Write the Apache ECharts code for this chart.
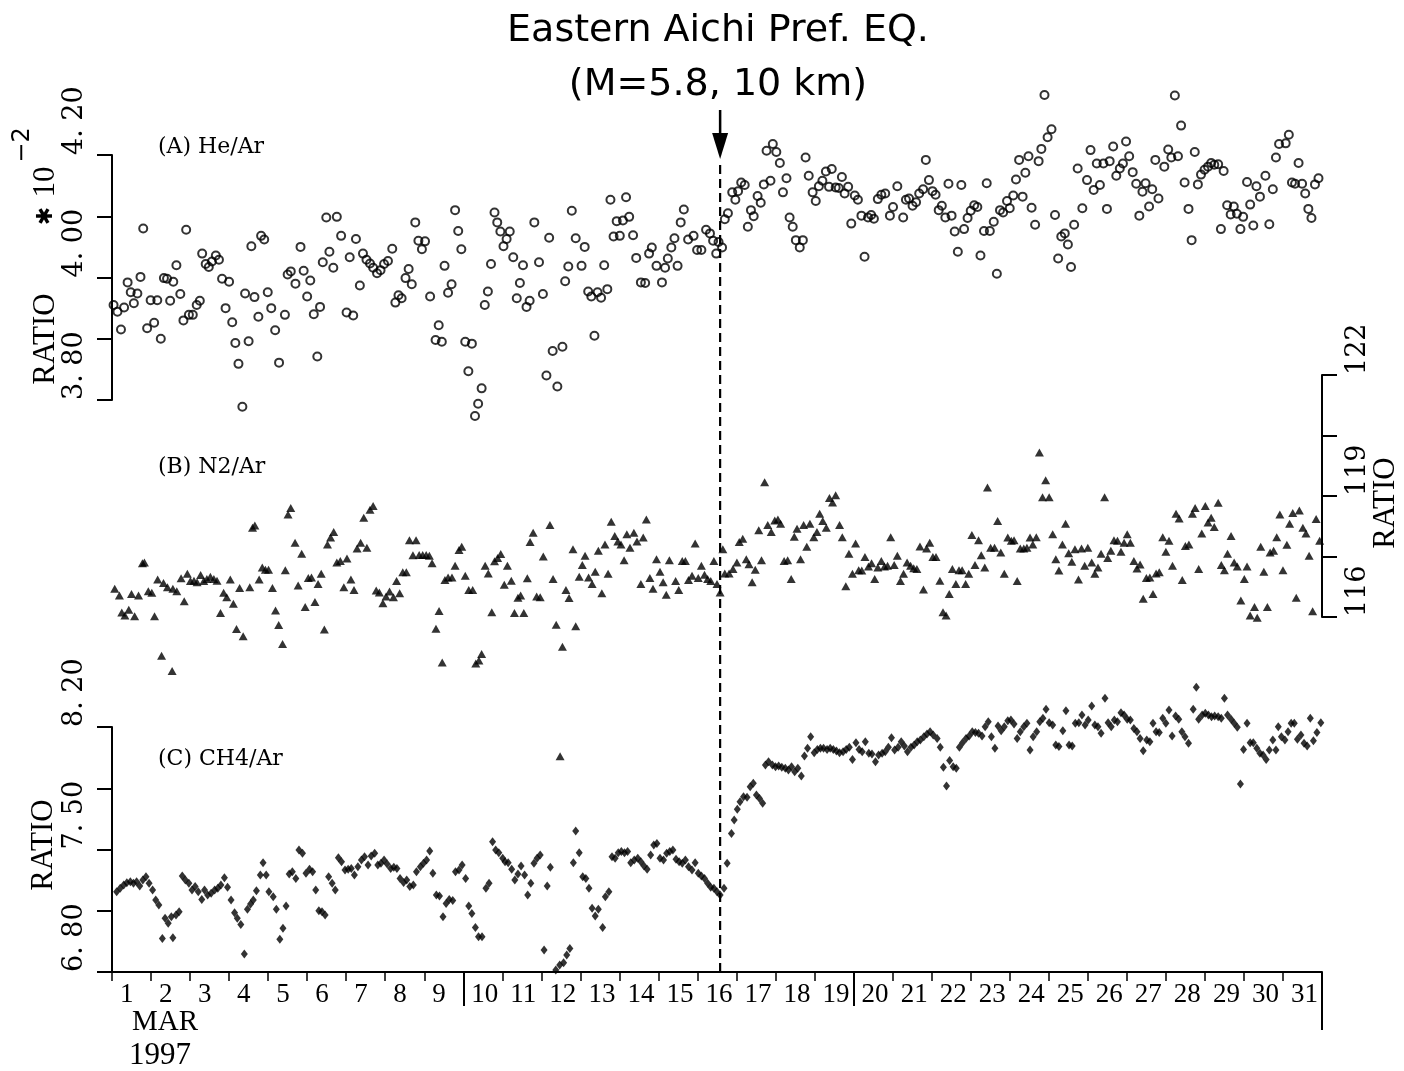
<!DOCTYPE html>
<html>
<head>
    <meta charset="utf-8">
    <title>Eastern Aichi Pref. EQ.</title>
    <script src="https://cdn.jsdelivr.net/npm/echarts@6/dist/echarts.min.js"></script>
    <style>html, body { margin: 0; background: #fff; }</style>
</head>
<body>
<div id="main" style="width: 1404px; height: 1071px;"></div>
<script type="text/javascript">
// day of March 1997 (0 = start of Mar 1), ratio
var heAr = [
    [0.04,3.955],[0.14,3.944],[0.23,3.915],[0.31,3.951],[0.40,3.992],[0.48,3.976],[0.56,3.958],[0.65,3.974],[0.73,4.001],[0.80,4.080],
    [0.90,3.917],[0.99,3.963],[1.08,3.926],[1.16,3.963],[1.25,3.900],[1.33,3.999],[1.41,3.998],[1.49,3.962],[1.57,3.993],[1.65,4.020],
    [1.75,3.973],[1.83,3.930],[1.90,4.078],[1.97,3.939],[2.07,3.939],[2.17,3.955],[2.25,3.962],[2.31,4.039],[2.40,4.022],[2.48,4.017],
    [2.56,4.026],[2.66,4.036],[2.74,4.029],[2.82,3.998],[2.91,3.950],[3.00,3.993],[3.08,3.927],[3.16,3.893],[3.24,3.859],[3.34,3.789],
    [3.41,3.974],[3.50,3.896],[3.57,4.051],[3.65,3.968],[3.75,3.936],[3.82,4.068],[3.90,4.062],[3.99,3.976],[4.08,3.950],[4.18,3.914],
    [4.28,3.861],[4.43,3.939],[4.50,4.005],[4.58,4.010],[4.70,3.990],[4.83,4.050],[4.91,4.011],[5.00,3.969],[5.08,3.995],[5.17,3.940],
    [5.26,3.871],[5.33,3.952],[5.40,4.025],[5.49,4.098],[5.57,4.042],[5.67,4.016],[5.76,4.099],[5.87,4.068],[6.01,3.943],[6.09,4.033],
    [6.18,3.938],[6.25,4.063],[6.35,3.987],[6.43,4.039],[6.52,4.029],[6.61,4.023],[6.69,4.016],[6.79,4.007],[6.88,4.012],[6.97,4.022],
    [7.07,4.027],[7.18,4.047],[7.26,3.959],[7.34,3.971],[7.42,3.966],[7.52,3.999],[7.60,4.014],[7.68,3.989],[7.77,4.090],[7.85,4.060],
    [7.94,4.046],[8.02,4.059],[8.15,3.969],[8.29,3.898],[8.37,3.922],[8.45,3.895],[8.52,4.019],[8.61,3.975],[8.70,3.989],[8.79,4.110],
    [8.87,4.076],[8.95,4.046],[9.05,3.895],[9.13,3.847],[9.22,3.892],[9.30,3.774],[9.38,3.794],[9.47,3.819],[9.55,3.955],[9.63,3.977],
    [9.71,4.022],[9.80,4.106],[9.87,4.090],[9.95,4.075],[10.03,4.051],[10.11,4.063],[10.19,4.075],[10.28,4.033],[10.37,3.966],[10.45,3.991],
    [10.53,4.020],[10.62,3.952],[10.70,3.962],[10.82,4.090],[10.94,4.025],[11.04,3.973],[11.13,3.840],[11.20,4.065],[11.29,3.880],[11.41,3.822],
    [11.54,3.887],[11.61,3.994],[11.69,4.018],[11.78,4.109],[11.88,4.064],[12.03,4.019],[12.11,4.050],[12.20,3.977],[12.28,3.969],[12.36,3.905],
    [12.44,3.976],[12.53,3.967],[12.61,4.020],[12.69,3.981],[12.77,4.127],[12.85,4.067],[12.93,4.092],[13.01,4.068],[13.09,4.093],[13.17,4.131],
    [13.25,4.099],[13.35,4.069],[13.43,4.032],[13.55,3.992],[13.66,3.991],[13.76,4.039],[13.83,4.049],[13.95,4.019],[14.09,3.992],[14.17,4.016],
    [14.24,4.031],[14.33,4.049],[14.41,4.064],[14.49,4.019],[14.57,4.090],[14.65,4.111],[14.76,4.062],[14.90,4.068],[14.99,4.045],[15.10,4.045],
    [15.22,4.078],[15.32,4.072],[15.40,4.060],[15.48,4.039],[15.54,4.058],
    [15.63,4.049],[15.70,4.095],[15.78,4.105],[15.89,4.139],[15.97,4.127],[16.04,4.141],[16.12,4.155],[16.21,4.151],[16.29,4.083],[16.37,4.110],
    [16.44,4.100],[16.54,4.133],[16.62,4.122],[16.70,4.152],[16.77,4.207],[16.87,4.158],[16.93,4.218],[17.02,4.205],[17.11,4.187],[17.19,4.139],
    [17.28,4.162],[17.36,4.098],[17.44,4.083],[17.52,4.061],[17.62,4.049],[17.70,4.061],[17.77,4.196],[17.85,4.166],[17.95,4.139],[18.03,4.125],
    [18.11,4.149],[18.20,4.158],[18.29,4.173],[18.37,4.148],[18.44,4.177],[18.54,4.147],[18.62,4.146],[18.70,4.164],[18.77,4.137],[18.86,4.148],
    [18.94,4.088],[19.03,4.134],[19.11,4.127],[19.20,4.101],[19.28,4.034],[19.37,4.098],[19.45,4.102],[19.52,4.096],[19.62,4.128],[19.71,4.135],
    [19.81,4.137],[19.93,4.101],[20.01,4.115],[20.12,4.149],[20.27,4.098],[20.34,4.127],[20.42,4.129],[20.51,4.117],[20.60,4.123],[20.68,4.137],
    [20.78,4.144],[20.85,4.192],[20.93,4.159],[21.02,4.141],[21.10,4.135],[21.18,4.110],[21.26,4.117],[21.35,4.098],[21.43,4.153],[21.51,4.101],
    [21.59,4.075],[21.67,4.042],[21.76,4.151],[21.83,4.079],[21.92,4.097],[22.00,4.109],[22.09,4.118],[22.17,4.115],[22.25,4.036],[22.34,4.076],
    [22.41,4.154],[22.49,4.076],[22.59,4.091],[22.67,4.006],[22.75,4.110],[22.83,4.106],[22.93,4.125],[23.00,4.113],[23.09,4.134],[23.16,4.160],
    [23.24,4.192],[23.33,4.132],[23.40,4.171],[23.48,4.198],[23.56,4.114],[23.65,4.086],[23.74,4.190],[23.81,4.210],[23.89,4.298],[23.97,4.229],
    [24.07,4.242],[24.16,4.102],[24.24,4.031],[24.32,4.067],[24.41,4.072],[24.49,4.054],[24.57,4.017],[24.65,4.086],[24.74,4.178],[24.86,4.113],
    [24.98,4.159],[25.07,4.208],[25.15,4.143],[25.23,4.186],[25.31,4.151],[25.40,4.186],[25.49,4.112],[25.56,4.190],[25.65,4.214],[25.73,4.166],
    [25.82,4.178],[25.90,4.186],[25.98,4.222],[26.06,4.198],[26.15,4.172],[26.24,4.153],[26.32,4.101],[26.40,4.140],[26.48,4.154],[26.57,4.116],
    [26.65,4.144],[26.73,4.192],[26.81,4.129],[26.96,4.181],[27.06,4.209],[27.14,4.196],[27.23,4.297],[27.31,4.198],[27.39,4.248],[27.48,4.155],
    [27.58,4.112],[27.66,4.061],[27.74,4.205],[27.82,4.152],[27.90,4.168],[27.99,4.176],[28.08,4.181],[28.16,4.187],[28.24,4.184],[28.34,4.185],
    [28.41,4.079],[28.48,4.174],[28.57,4.118],[28.66,4.103],[28.74,4.116],[28.82,4.104],[28.91,4.079],[28.98,4.099],[29.08,4.156],[29.16,4.119],
    [29.24,4.085],[29.32,4.149],[29.41,4.132],[29.55,4.166],[29.65,4.087],[29.74,4.144],[29.82,4.196],[29.90,4.218],[30.07,4.219],[30.15,4.233],
    [30.23,4.155],[30.31,4.153],[30.40,4.187],[30.49,4.153],[30.57,4.137],[30.65,4.112],[30.73,4.097],[30.82,4.152],[30.91,4.162]
];

var n2Ar = [
    [0.07,116.70],[0.19,116.53],[0.25,116.11],[0.33,116.04],[0.43,116.18],[0.50,116.57],[0.58,116.02],[0.68,116.53],[0.78,117.33],[0.83,117.35],
    [0.93,116.64],[1.02,116.60],[1.09,116.02],[1.17,116.93],[1.27,115.04],[1.32,116.84],[1.42,116.74],[1.54,114.66],[1.56,116.70],[1.66,116.64],
    [1.77,116.96],[1.85,116.39],[1.93,117.07],[2.01,116.89],[2.10,116.90],[2.18,116.86],[2.27,117.04],[2.35,116.89],[2.43,116.94],[2.52,117.00],
    [2.61,116.94],[2.69,116.90],[2.78,116.10],[2.86,116.60],[2.94,116.49],[3.03,116.93],[3.11,116.33],[3.19,115.70],[3.27,116.72],[3.36,115.52],
    [3.53,116.74],[3.60,118.21],[3.66,118.27],[3.77,116.93],[3.85,117.23],[3.93,117.17],[4.01,117.17],[4.11,116.72],[4.19,116.16],[4.27,115.80],
    [4.37,115.33],[4.44,117.16],[4.51,118.54],[4.58,118.70],[4.69,117.84],[4.77,116.78],[4.86,117.57],[4.95,116.25],[5.03,116.97],[5.11,116.98],
    [5.20,116.37],[5.28,116.82],[5.36,117.07],[5.44,115.69],[5.52,117.80],[5.60,117.97],[5.68,118.11],[5.76,117.35],[5.85,117.39],[5.94,116.74],
    [6.02,117.45],[6.12,116.93],[6.20,116.67],[6.28,117.70],[6.37,117.84],[6.45,118.46],[6.53,117.72],[6.61,118.66],[6.69,118.75],[6.77,116.66],
    [6.85,116.61],[6.94,116.34],[7.02,116.51],[7.11,116.63],[7.21,116.49],[7.29,116.89],[7.37,116.59],[7.45,117.11],[7.54,117.11],[7.62,117.90],
    [7.71,117.53],[7.79,117.90],[7.87,117.54],[7.96,117.54],[8.05,117.54],[8.13,117.52],[8.20,117.33],[8.30,115.71],[8.38,116.15],[8.46,114.87],
    [8.53,116.92],[8.61,116.98],[8.71,116.98],[8.79,117.27],[8.89,117.66],[8.96,117.74],[9.05,117.02],[9.14,116.67],[9.24,116.67],[9.32,114.85],
    [9.40,114.92],[9.47,115.08],[9.56,117.27],[9.64,117.08],[9.73,116.12],[9.80,117.38],[9.88,117.46],[9.96,117.56],[10.05,116.80],[10.13,117.27],
    [10.23,116.90],[10.31,116.10],[10.40,116.48],[10.47,116.53],[10.55,116.10],[10.64,116.96],[10.71,117.86],[10.79,118.09],[10.88,116.51],[10.97,116.49],
    [11.05,117.50],[11.22,118.28],[11.30,116.94],[11.38,115.81],[11.48,112.55],[11.54,115.26],[11.63,116.67],[11.71,116.47],[11.81,117.68],[11.88,115.77],
    [11.97,117.00],[12.05,117.29],[12.12,117.52],[12.21,116.98],[12.30,116.82],[12.38,117.12],[12.46,117.64],[12.55,116.59],[12.63,117.80],[12.71,117.07],
    [12.79,118.36],[12.88,118.01],[12.96,117.87],[13.04,117.80],[13.12,117.41],[13.19,118.05],[13.27,117.72],[13.37,118.09],[13.45,117.87],[13.55,116.82],
    [13.61,117.97],[13.69,118.42],[13.78,116.97],[13.86,116.70],[13.95,117.43],[14.04,117.12],[14.12,116.86],[14.20,116.55],[14.28,117.41],[14.44,116.89],
    [14.52,116.67],[14.61,117.39],[14.69,117.39],[14.77,116.92],[14.86,117.02],[14.94,117.82],[15.02,116.97],[15.10,117.27],[15.18,117.05],[15.26,116.94],
    [15.34,116.89],[15.42,117.39],[15.50,116.82],[15.58,116.61],
    [15.65,117.68],[15.70,117.08],[15.81,117.08],[15.91,117.19],[16.01,117.35],[16.07,117.86],[16.16,117.94],[16.25,117.43],[16.32,117.31],[16.40,116.86],
    [16.48,117.17],[16.57,118.15],[16.64,117.41],[16.72,119.34],[16.80,118.28],[16.89,118.11],[16.98,118.39],[17.06,118.42],[17.13,118.31],[17.22,117.39],
    [17.31,117.41],[17.40,116.94],[17.48,117.99],[17.55,118.19],[17.64,117.43],[17.72,118.28],[17.80,117.74],[17.88,118.31],[17.98,117.98],[18.06,118.11],
    [18.13,118.56],[18.21,118.38],[18.30,118.21],[18.38,118.95],[18.46,118.84],[18.54,119.02],[18.64,118.28],[18.71,117.98],[18.80,116.76],[18.88,117.57],
    [18.97,117.07],[19.05,117.82],[19.13,117.16],[19.21,117.15],[19.29,117.49],[19.38,117.25],[19.46,117.33],[19.54,116.94],[19.62,117.23],[19.71,117.39],
    [19.79,117.25],[19.87,117.27],[19.95,117.98],[20.04,117.29],[20.12,117.52],[20.20,116.89],[20.28,117.07],[20.37,117.35],[20.46,117.27],[20.54,117.21],
    [20.62,117.19],[20.70,117.75],[20.79,116.68],[20.87,117.70],[20.95,117.84],[21.03,117.49],[21.11,117.49],[21.21,116.90],[21.29,116.12],[21.37,116.04],
    [21.45,116.57],[21.53,117.19],[21.62,116.82],[21.70,117.16],[21.78,117.16],[21.87,116.82],[21.95,117.07],[22.03,118.03],[22.11,117.29],[22.20,117.90],
    [22.27,117.53],[22.36,117.23],[22.43,119.21],[22.51,117.72],[22.61,117.72],[22.69,118.38],[22.77,117.60],[22.86,117.07],[22.95,117.97],[23.04,117.89],
    [23.11,117.90],[23.19,116.89],[23.27,117.70],[23.36,117.70],[23.44,117.72],[23.52,117.97],[23.59,117.80],[23.68,117.98],[23.76,120.08],[23.84,118.97],
    [23.92,119.39],[24.01,118.97],[24.10,118.05],[24.18,117.43],[24.26,117.15],[24.35,117.80],[24.43,118.31],[24.51,117.58],[24.59,117.37],[24.67,117.68],
    [24.76,116.93],[24.84,117.70],[24.92,117.27],[25.00,117.72],[25.10,117.35],[25.18,117.07],[25.26,117.23],[25.34,117.57],[25.43,118.97],[25.51,117.46],
    [25.59,117.64],[25.67,117.90],[25.76,117.89],[25.85,117.62],[25.93,117.84],[26.01,118.05],[26.09,117.84],[26.18,117.39],[26.26,117.20],[26.34,117.30],
    [26.42,116.45],[26.50,116.97],[26.59,116.98],[26.67,116.57],[26.75,117.08],[26.83,117.11],[26.92,117.98],[27.00,117.62],[27.08,117.89],[27.17,117.27],
    [27.26,118.56],[27.34,118.44],[27.42,116.92],[27.50,117.76],[27.59,117.80],[27.68,118.56],[27.75,118.70],[27.84,117.19],[27.92,118.07],[28.01,118.75],
    [28.08,118.34],[28.16,118.46],[28.24,118.23],[28.34,118.83],[28.42,117.29],[28.50,117.16],[28.58,117.57],[28.67,118.01],[28.75,117.35],[28.83,117.25],
    [28.92,116.41],[29.01,116.94],[29.08,117.25],[29.16,116.04],[29.27,116.25],[29.34,115.98],[29.43,117.74],[29.51,117.12],[29.60,116.25],[29.67,117.60],
    [29.76,117.64],[29.84,117.98],[29.92,118.54],[30.00,117.16],[30.10,117.79],[30.17,118.31],[30.25,118.58],[30.34,116.48],[30.42,118.64],[30.51,118.21],
    [30.59,118.07],[30.67,117.52],[30.76,116.14],[30.85,118.43],[30.94,117.89]
];

var ch4Ar = [
    [0.12,7.259],[0.21,7.278],[0.30,7.297],[0.38,7.310],[0.47,7.316],[0.55,7.307],[0.63,7.316],[0.71,7.291],[0.79,7.326],[0.87,7.345],
    [0.95,7.307],[1.04,7.269],[1.12,7.211],[1.20,7.183],[1.29,6.992],[1.36,7.107],[1.44,7.078],[1.52,7.116],[1.56,6.996],[1.64,7.126],
    [1.72,7.145],[1.80,7.349],[1.88,7.326],[1.97,7.307],[2.05,7.269],[2.13,7.288],[2.21,7.259],[2.30,7.215],[2.37,7.269],[2.45,7.240],
    [2.54,7.250],[2.63,7.269],[2.71,7.278],[2.79,7.297],[2.88,7.339],[2.96,7.284],[3.05,7.211],[3.14,7.139],[3.21,7.107],[3.30,7.072],
    [3.39,6.903],[3.47,7.158],[3.55,7.189],[3.62,7.211],[3.70,7.265],[3.80,7.354],[3.87,7.425],[3.95,7.354],[4.02,7.259],[4.13,7.230],
    [4.21,7.158],[4.30,6.987],[4.38,7.050],[4.46,7.177],[4.54,7.360],[4.62,7.373],[4.71,7.335],[4.79,7.497],[4.88,7.478],[4.97,7.364],
    [5.06,7.387],[5.14,7.373],[5.22,7.269],[5.30,7.150],[5.38,7.145],[5.46,7.126],[5.55,7.345],[5.64,7.307],[5.72,7.269],[5.80,7.453],
    [5.88,7.430],[5.97,7.383],[6.05,7.387],[6.13,7.392],[6.21,7.354],[6.30,7.402],[6.39,7.440],[6.47,7.459],[6.56,7.411],[6.64,7.463],
    [6.73,7.478],[6.81,7.411],[6.89,7.421],[6.97,7.440],[7.05,7.417],[7.14,7.392],[7.22,7.398],[7.30,7.392],[7.38,7.335],[7.47,7.312],
    [7.55,7.326],[7.63,7.288],[7.72,7.297],[7.80,7.373],[7.90,7.402],[7.98,7.421],[8.06,7.440],[8.14,7.491],[8.22,7.364],[8.31,7.240],
    [8.39,7.234],[8.48,7.116],[8.56,7.192],[8.64,7.215],[8.73,7.208],[8.80,7.373],[8.89,7.383],[8.97,7.411],[9.06,7.335],[9.14,7.177],
    [9.22,7.135],[9.31,7.055],[9.39,7.002],[9.48,7.002],[9.58,7.278],[9.66,7.307],[9.75,7.545],[9.83,7.497],[9.91,7.482],[10.01,7.450],
    [10.07,7.430],[10.15,7.425],[10.24,7.387],[10.32,7.326],[10.40,7.360],[10.48,7.406],[10.57,7.354],[10.65,7.240],[10.73,7.307],[10.81,7.421],
    [10.89,7.450],[10.97,7.469],[11.07,6.926],[11.15,7.291],[11.23,7.398],[11.37,6.811],[11.47,6.840],[11.57,6.853],[11.65,6.897],[11.73,6.935],
    [11.82,7.425],[11.88,7.606],[11.97,7.482],[12.06,7.345],[12.14,7.335],[12.22,7.278],[12.30,7.164],[12.38,7.120],[12.46,7.158],[12.57,7.055],
    [12.64,7.230],[12.73,7.259],[12.81,7.459],[12.89,7.450],[12.97,7.482],[13.05,7.488],[13.13,7.482],[13.21,7.488],[13.29,7.425],[13.38,7.440],
    [13.47,7.450],[13.55,7.430],[13.63,7.406],[13.71,7.387],[13.80,7.469],[13.88,7.526],[13.96,7.535],[14.04,7.450],[14.13,7.440],[14.21,7.478],
    [14.29,7.488],[14.37,7.497],[14.45,7.444],[14.53,7.430],[14.61,7.421],[14.69,7.440],[14.77,7.402],[14.86,7.383],[14.94,7.425],[15.02,7.364],
    [15.10,7.349],[15.18,7.335],[15.26,7.307],[15.34,7.284],[15.42,7.278],[15.50,7.259],[15.58,7.240],
    [15.68,7.278],[15.76,7.421],[15.87,7.592],[15.94,7.669],[16.02,7.730],[16.09,7.773],[16.18,7.802],[16.27,7.798],[16.35,7.859],[16.43,7.878],
    [16.51,7.811],[16.59,7.792],[16.67,7.764],[16.74,7.983],[16.82,8.002],[16.92,7.983],[17.00,7.973],[17.08,7.977],[17.16,7.970],[17.25,7.964],
    [17.33,7.954],[17.41,7.973],[17.49,7.945],[17.57,7.964],[17.66,7.920],[17.74,8.034],[17.82,8.078],[17.90,8.145],[17.99,8.053],[18.07,8.072],
    [18.15,8.078],[18.23,8.078],[18.32,8.072],[18.40,8.078],[18.48,8.072],[18.56,8.063],[18.64,8.053],[18.73,8.059],[18.81,8.072],[18.89,8.084],
    [18.97,8.015],[19.06,8.110],[19.14,8.072],[19.22,8.059],[19.30,8.116],[19.39,8.050],[19.47,8.046],[19.56,8.002],[19.64,8.040],[19.73,8.050],
    [19.81,8.059],[19.89,8.084],[19.97,8.139],[20.05,8.069],[20.14,8.084],[20.22,8.116],[20.30,8.091],[20.38,8.059],[20.47,8.084],[20.55,8.097],
    [20.63,8.116],[20.71,8.126],[20.80,8.145],[20.88,8.160],[20.96,8.173],[21.04,8.154],[21.14,8.135],[21.22,8.084],[21.30,7.970],[21.38,7.863],
    [21.46,8.008],[21.55,7.973],[21.63,7.964],[21.71,8.084],[21.79,8.110],[21.88,8.135],[21.96,8.149],[22.04,8.173],[22.12,8.168],[22.20,8.164],
    [22.29,8.149],[22.37,8.202],[22.45,8.230],[22.53,8.145],[22.62,8.078],[22.70,8.206],[22.78,8.179],[22.86,8.202],[22.95,8.236],[23.03,8.240],
    [23.11,8.217],[23.19,8.135],[23.27,8.173],[23.36,8.202],[23.44,8.221],[23.52,8.069],[23.60,8.145],[23.69,8.173],[23.77,8.230],[23.85,8.250],
    [23.93,8.301],[24.01,8.225],[24.10,8.211],[24.18,8.097],[24.26,8.088],[24.36,8.179],[24.44,8.293],[24.52,8.097],[24.60,8.091],[24.68,8.221],
    [24.77,8.225],[24.85,8.269],[24.93,8.211],[25.01,8.240],[25.10,8.320],[25.18,8.211],[25.26,8.202],[25.34,8.164],[25.44,8.364],[25.52,8.225],
    [25.60,8.202],[25.68,8.240],[25.76,8.230],[25.85,8.282],[25.93,8.269],[26.01,8.244],[26.09,8.240],[26.18,8.192],[26.26,8.173],[26.34,8.135],
    [26.42,8.065],[26.51,8.126],[26.59,8.116],[26.67,8.221],[26.75,8.173],[26.83,8.168],[26.92,8.250],[27.00,8.221],[27.08,8.297],[27.16,8.149],
    [27.25,8.263],[27.33,8.244],[27.41,8.173],[27.49,8.145],[27.58,8.107],[27.70,8.301],[27.78,8.427],[27.84,8.244],[27.93,8.269],[28.01,8.278],
    [28.09,8.269],[28.17,8.259],[28.25,8.263],[28.34,8.259],[28.42,8.250],[28.50,8.364],[28.58,8.269],[28.67,8.244],[28.75,8.221],[28.83,8.198],
    [28.91,7.874],[28.99,8.072],[29.08,8.221],[29.16,8.110],[29.24,8.110],[29.33,8.078],[29.41,8.050],[29.49,8.040],[29.57,8.015],[29.65,8.069],
    [29.74,8.126],[29.82,8.069],[29.88,8.202],[29.96,8.145],[30.05,8.126],[30.13,8.173],[30.21,8.221],[30.29,8.221],[30.37,8.130],[30.46,8.154],
    [30.54,8.107],[30.62,8.091],[30.70,8.250],[30.78,8.122],[30.87,8.168],[30.97,8.225]
];

// tick labels
var dayLabels = [];
for (var d = 1; d <= 31; d++) dayLabels.push(String(d));
var heLabels = ['3. 80', '', '4. 00', '', '4. 20'];
var n2Labels = ['116', '', '119', '', '122'];
var ch4Labels = ['6. 80', '', '7. 50', '', '8. 20'];

// earthquake, Mar 16 afternoon
var eqDay = 15.58;

var myChart = echarts.init(document.getElementById('main'));

var black = '#000';
var serif = 'DejaVu Serif';

function yAxisOf(grid, min, max, step, labels, right) {
    return {
        gridIndex: grid,
        type: 'value',
        position: right ? 'right' : 'left',
        min: min, max: max, interval: step,
        axisLine: { show: true, onZero: false, lineStyle: { color: black, width: 2 } },
        axisTick: { show: true, length: 15, lineStyle: { color: black, width: 2 } },
        splitLine: { show: false },
        axisLabel: {
            rotate: 90,
            align: 'left',
            verticalAlign: right ? 'top' : 'bottom',
            margin: right ? 22 : 24,
            color: black,
            fontFamily: serif,
            fontSize: 27,
            formatter: function (v, i) { return labels[i] || ''; }
        }
    };
}

function hiddenX(grid) {
    return { gridIndex: grid, type: 'value', min: 0, max: 31, show: false };
}

function longTicks(values, len) {
    return {
        gridIndex: 2, type: 'value', min: 0, max: 31, position: 'bottom',
        axisLine: { show: false, onZero: false },
        axisLabel: { show: false },
        splitLine: { show: false },
        axisTick: { show: true, customValues: values, length: len, lineStyle: { color: black, width: 2 } }
    };
}

var option = {
    animation: false,
    backgroundColor: '#fff',
    grid: [
        { left: 112, width: 1210, top: 155, height: 245, outerBoundsMode: 'none' },
        { left: 112, width: 1210, top: 375, height: 242, outerBoundsMode: 'none' },
        { left: 112, width: 1210, top: 727, height: 245, outerBoundsMode: 'none' }
    ],
    xAxis: [
        hiddenX(0),
        hiddenX(1),
        {
            gridIndex: 2, type: 'value', min: 0, max: 31, interval: 1, position: 'bottom',
            axisLine: { show: true, onZero: false, lineStyle: { color: black, width: 2 } },
            axisTick: { show: true, length: 9, lineStyle: { color: black, width: 1.5 } },
            splitLine: { show: false },
            axisLabel: {
                margin: 9,
                align: 'left',
                padding: [0, 0, 0, 8],
                color: black,
                fontFamily: 'Liberation Serif',
                fontSize: 27,
                formatter: function (v) { return dayLabels[Math.round(v)] || ''; }
            }
        },
        longTicks([9, 19], 34),
        longTicks([31], 58)
    ],
    yAxis: [
        yAxisOf(0, 3.8, 4.2, 0.1, heLabels, false),
        yAxisOf(1, 116, 122, 1.5, n2Labels, true),
        yAxisOf(2, 6.8, 8.2, 0.35, ch4Labels, false)
    ],
    series: [
        {
            name: 'He/Ar', type: 'scatter', xAxisIndex: 0, yAxisIndex: 0,
            data: heAr, clip: false, silent: true,
            symbol: 'circle', symbolSize: 8,
            itemStyle: { color: 'rgba(0,0,0,0)', borderColor: black, borderWidth: 2 }
        },
        {
            name: 'N2/Ar', type: 'scatter', xAxisIndex: 1, yAxisIndex: 1,
            data: n2Ar, clip: false, silent: true,
            symbol: 'triangle', symbolSize: [9, 8],
            itemStyle: { color: black }
        },
        {
            name: 'CH4/Ar', type: 'scatter', xAxisIndex: 2, yAxisIndex: 2,
            data: ch4Ar, clip: false, silent: true,
            symbol: 'diamond', symbolSize: [7, 9],
            itemStyle: { color: black }
        }
    ]
};

myChart.setOption(option);

// earthquake marker goes through all three panels
var eqX = myChart.convertToPixel({ xAxisIndex: 2 }, eqDay);

function label(x, y, text, font, size, rot, align) {
    return {
        type: 'text', x: x, y: y, rotation: rot ? Math.PI / 2 : 0, silent: true,
        style: {
            text: text, fill: black, fontFamily: font, fontSize: size,
            align: align || 'center', verticalAlign: 'middle'
        }
    };
}

myChart.setOption({
    graphic: [
        label(718, 31, 'Eastern Aichi Pref. EQ.', 'DejaVu Sans', 38),
        label(718, 85, '(M=5.8, 10 km)', 'DejaVu Sans', 38),
        { type: 'line', silent: true, shape: { x1: eqX, y1: 110, x2: eqX, y2: 140 },
          style: { stroke: black, lineWidth: 2.5 } },
        { type: 'polygon', silent: true, shape: { points: [[eqX - 8, 133], [eqX + 8, 133], [eqX, 159]] },
          style: { fill: black } },
        { type: 'line', silent: true, shape: { x1: eqX, y1: 165, x2: eqX, y2: 975 },
          style: { stroke: black, lineWidth: 2.2, lineDash: [9, 5] } },
        label(158, 147, '(A) He/Ar', serif, 22, false, 'left'),
        label(158, 467, '(B) N2/Ar', serif, 22, false, 'left'),
        label(158, 759, '(C) CH4/Ar', serif, 22, false, 'left'),
        label(46, 339, 'RATIO', 'Liberation Serif', 31, true),
        label(46, 216, '\u2731', 'DejaVu Sans', 22, true),
        label(46, 182, '10', 'Liberation Serif', 31, true),
        label(23, 145, '\u22122', 'DejaVu Sans', 24, true),
        label(1386, 503, 'RATIO', 'Liberation Serif', 31, true),
        label(44, 845, 'RATIO', 'Liberation Serif', 31, true),
        label(165, 1022, 'MAR', 'Liberation Serif', 29),
        label(160, 1056, '1997', 'Liberation Serif', 31)
    ]
});
</script>
</body>
</html>
